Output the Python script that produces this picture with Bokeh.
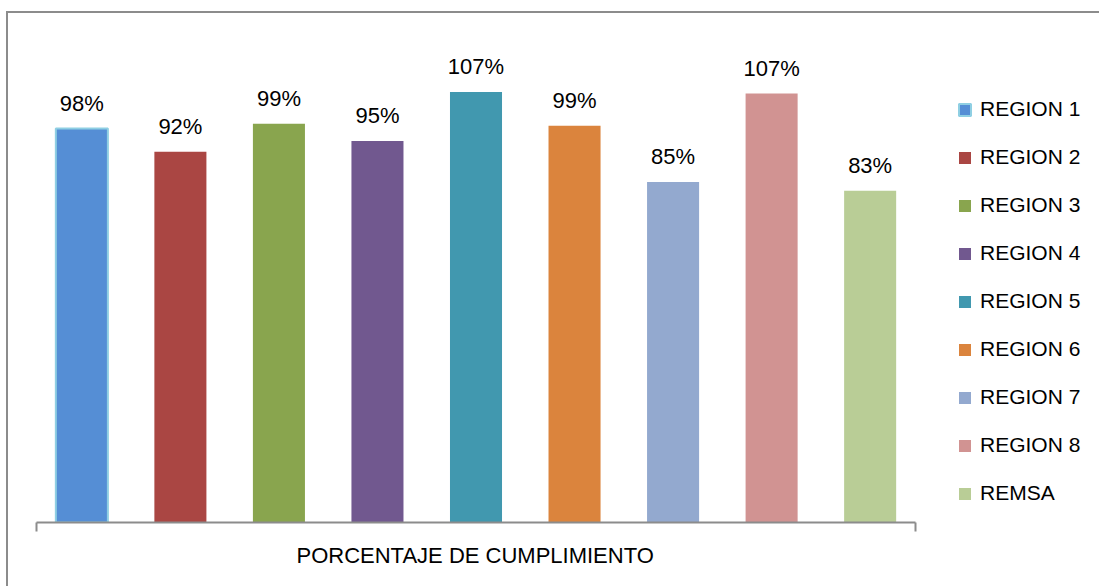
from bokeh.plotting import figure
from bokeh.models import (ColumnDataSource, Range1d, FixedTicker, Legend, LegendItem,
                          InlineStyleSheet, Title)
from bokeh.core.properties import value
from bokeh.embed import file_html
from bokeh.resources import INLINE

# ---- data ----
category = "PORCENTAJE DE CUMPLIMIENTO"
series = ["REGION 1", "REGION 2", "REGION 3", "REGION 4", "REGION 5",
          "REGION 6", "REGION 7", "REGION 8", "REMSA"]
values = [98.1, 92.3, 99.3, 95.0, 107.2, 98.8, 84.8, 106.8, 82.6]
colors = ["#558ED5", "#AA4643", "#89A54E", "#71588F", "#4198AF",
          "#DB843D", "#93A9CF", "#D19392", "#B9CD96"]

FONT = "Liberation Sans"

n = len(series)
step = 0.1121
xs = [0.5 + (i - (n - 1) / 2) * step for i in range(n)]
labels = [f"{round(v):d}%" for v in values]

W, H = 1099, 586
LEFT, TOP, BOTTOM = 36, 40, 64
AXIS_PX = 879  # pixel length of the category axis
x_end = (W - LEFT) / AXIS_PX

p = figure(width=W, height=H, output_backend="svg", toolbar_location=None,
           x_range=Range1d(0, x_end), y_range=Range1d(0, 120),
           min_border_left=LEFT, min_border_right=0, min_border_top=TOP,
           min_border_bottom=BOTTOM)
p.outline_line_color = None
p.grid.grid_line_color = None
p.yaxis.visible = False
p.background_fill_color = "white"
p.border_fill_color = "white"

items = []
for i in range(n):
    src = ColumnDataSource(dict(x=[xs[i]], top=[values[i]], lab=[labels[i]]))
    if i == 0:
        r = p.vbar(x="x", top="top", width=0.0592, source=src,
                   fill_color=colors[i], line_color="#8FCFE3", line_width=2)
    else:
        r = p.vbar(x="x", top="top", width=0.0592, source=src,
                   fill_color=colors[i], line_color=None)
    p.text(x="x", y="top", text="lab", source=src, text_align="center",
           text_baseline="alphabetic", y_offset=-25, text_color="black",
           text_font=value(FONT), text_font_size="22px")
    items.append(LegendItem(label=series[i], renderers=[r]))

legend = Legend(items=items, location=(921, 17), glyph_width=15, glyph_height=15,
                label_standoff=8, spacing=24, padding=0, margin=0,
                label_text_font=FONT, label_text_font_size="21px",
                label_text_color="black", border_line_color=None,
                background_fill_alpha=0)
p.add_layout(legend, "center")

ax = p.xaxis[0]
ax.bounds = (0, 1)
ax.ticker = FixedTicker(ticks=[0, 1])
ax.major_tick_in = 0
ax.major_tick_out = 9
ax.minor_tick_line_color = None
ax.major_label_overrides = {0: "", 1: ""}
ax.major_label_standoff = 0
ax.axis_line_color = "#8C8C8C"
ax.axis_line_width = 2
ax.major_tick_line_color = "#8C8C8C"
ax.major_tick_line_width = 2

# category label under the axis (frame extends under the legend)
cat_title = Title(text=category, align="left", offset=260,
                  text_font=FONT, text_font_size="22px", text_font_style="normal",
                  text_color="black", standoff=19)
p.add_layout(cat_title, "below")

p.stylesheets = [InlineStyleSheet(css="""
:host::after {
  content: '';
  position: absolute;
  left: 6px; top: 11px; right: 0; bottom: 0;
  border-top: 2px solid #8C8C8C;
  border-left: 2px solid #8C8C8C;
  pointer-events: none;
}
""")]

open("out.html", "w").write(file_html(p, INLINE))
